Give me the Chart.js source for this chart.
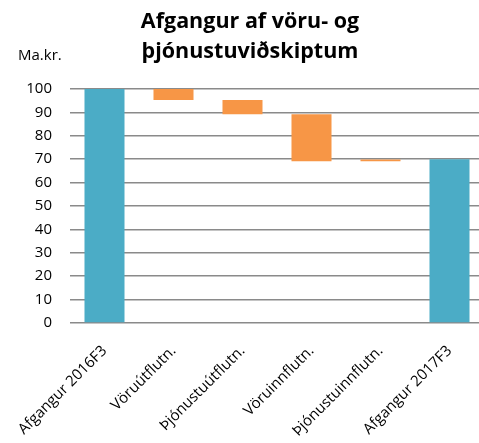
<!DOCTYPE html>
<html>
<head>
<meta charset="utf-8">
<script src="https://cdn.jsdelivr.net/npm/chart.js@4.4.1/dist/chart.umd.min.js"></script>
<style>
  html, body { margin: 0; padding: 0; background: #fff; overflow: hidden; }
  #wrap { width: 485px; height: 443px; }
</style>
</head>
<body>
<div id="wrap"><canvas id="chart"></canvas></div>
<script>
// Waterfall data (Ma.kr.)
const categories = ['Afgangur 2016F3', 'Vöruútflutn.', 'Þjónustuútflutn.', 'Vöruinnflutn.', 'Þjónustuinnflutn.', 'Afgangur 2017F3'];
const barLow  = [0,   95.3, 89.2, 69.1, 69.1, 0];
const barHigh = [100, 100,  95.3, 89.2, 69.9, 70];
const barKind = ['total', 'change', 'change', 'change', 'change', 'total'];
const yTicks = [0, 10, 20, 30, 40, 50, 60, 70, 80, 90, 100];

const titleLines = ['Afgangur af vöru- og', 'þjónustuviðskiptum'];
const unitLabel = 'Ma.kr.';

const FONT = '"Open Sans", Lato, sans-serif';

const colorFor = kind => kind === 'total' ? '#4BACC6' : '#F79646';

// title and unit text drawn on top of the canvas
const titlePlugin = {
    id: 'titleText',
    afterDraw(chart) {
        const ctx = chart.ctx;
        ctx.save();
        ctx.fillStyle = '#000';
        ctx.textAlign = 'center';
        ctx.textBaseline = 'alphabetic';
        ctx.font = 'bold 21.5px ' + FONT;
        ctx.fillText(titleLines[0], 250, 28);
        ctx.fillText(titleLines[1], 250, 58);
        ctx.textAlign = 'left';
        ctx.font = '15px ' + FONT;
        ctx.fillText(unitLabel, 18, 60);
        ctx.restore();
    }
};

new Chart(document.getElementById('chart'), {
    type: 'bar',
    data: {
        labels: categories,
        datasets: [{
            data: barLow.map((lo, i) => [lo, barHigh[i]]),
            backgroundColor: barKind.map(colorFor),
            borderWidth: 0,
            categoryPercentage: 1,
            barPercentage: 0.58
        }]
    },
    options: {
        responsive: true,
        maintainAspectRatio: false,
        animation: false,
        layout: { padding: { top: 89, right: 1, left: 0, bottom: 0 } },
        plugins: {
            legend: { display: false },
            title: { display: false },
            tooltip: { enabled: false }
        },
        scales: {
            x: {
                grid: { display: false },
                border: { display: false },
                ticks: {
                    color: '#000',
                    font: { family: FONT, size: 15 },
                    minRotation: 45,
                    maxRotation: 45,
                    padding: 11
                },
                afterFit: s => { s.height = 120; }
            },
            y: {
                min: 0,
                max: 100,
                afterBuildTicks: s => { s.ticks = yTicks.map(v => ({ value: v })); },
                grid: { color: '#8a8a8a', lineWidth: 1.5, drawTicks: false },
                border: { display: false },
                ticks: {
                    color: '#000',
                    font: { family: FONT, size: 15 },
                    padding: 18
                },
                afterFit: s => { s.width = 70; }
            }
        }
    },
    plugins: [titlePlugin]
});
</script>
</body>
</html>
